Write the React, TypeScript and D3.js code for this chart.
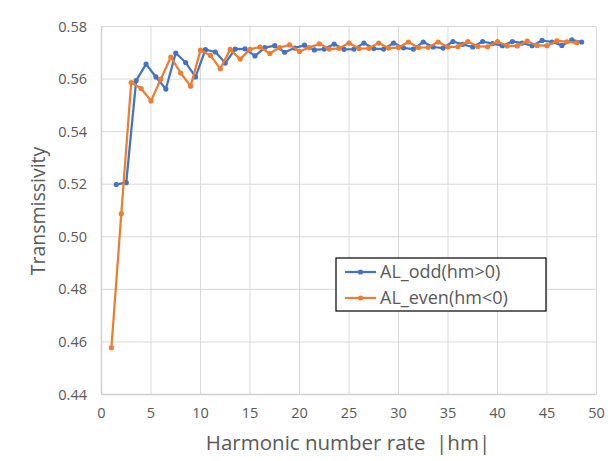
import React from "react";
import * as d3 from "d3";

// harmonic number rate |hm| for each series
const oddX = [
  1.5, 2.5, 3.5, 4.5, 5.5, 6.5, 7.5, 8.5, 9.5, 10.5, 11.5, 12.5, 13.5, 14.5, 15.5, 16.5,
  17.5, 18.5, 19.5, 20.5, 21.5, 22.5, 23.5, 24.5, 25.5, 26.5, 27.5, 28.5, 29.5, 30.5, 31.5, 32.5,
  33.5, 34.5, 35.5, 36.5, 37.5, 38.5, 39.5, 40.5, 41.5, 42.5, 43.5, 44.5, 45.5, 46.5, 47.5, 48.5,
];
const oddT = [
  0.5199, 0.5206, 0.5594, 0.5657, 0.5608, 0.5562, 0.5699, 0.5663, 0.5608, 0.5712, 0.5703, 0.5661,
  0.5714, 0.5715, 0.5688, 0.572, 0.5727, 0.5702, 0.5718, 0.5729, 0.5711, 0.5714, 0.5733, 0.5713,
  0.5714, 0.5737, 0.5716, 0.5714, 0.5737, 0.5719, 0.5714, 0.5741, 0.5722, 0.5718, 0.5743, 0.5732,
  0.5722, 0.5743, 0.5735, 0.5727, 0.5743, 0.5737, 0.5727, 0.5747, 0.5741, 0.5728, 0.5749, 0.5741,
];
const evenX = [
  1, 2, 3, 4, 5, 6, 7, 8, 9, 10, 11, 12, 13, 14, 15, 16, 17, 18, 19, 20, 21, 22, 23, 24,
  25, 26, 27, 28, 29, 30, 31, 32, 33, 34, 35, 36, 37, 38, 39, 40, 41, 42, 43, 44, 45, 46, 47, 48,
];
const evenT = [
  0.4578, 0.5088, 0.5587, 0.5564, 0.5517, 0.56, 0.5684, 0.5623, 0.5573, 0.571, 0.569, 0.5639,
  0.5713, 0.5676, 0.5713, 0.5722, 0.5697, 0.572, 0.573, 0.5705, 0.572, 0.5734, 0.5714, 0.5717,
  0.5737, 0.5716, 0.5717, 0.5737, 0.5718, 0.572, 0.5741, 0.572, 0.5721, 0.5741, 0.5722, 0.5723,
  0.5743, 0.5724, 0.5723, 0.5743, 0.5726, 0.5726, 0.5744, 0.5728, 0.5727, 0.5745, 0.5742, 0.5738,
];

const xTicks = [0, 5, 10, 15, 20, 25, 30, 35, 40, 45, 50];
const yTicks = [0.44, 0.46, 0.48, 0.5, 0.52, 0.54, 0.56, 0.58];

const seriesNames = ["AL_odd(hm>0)", "AL_even(hm<0)"];
const colors = ["#4472C4", "#ED7D31"];

const W = 616;
const H = 461;
const font = "'Open Sans', sans-serif";
const textColor = "#595959";

export default function App() {
  const x = d3.scaleLinear().domain([0, 50]).range([101.5, 596.5]);
  const y = d3.scaleLinear().domain([0.44, 0.58]).range([394.5, 26.5]);

  const line = d3
    .line<[number, number]>()
    .x((d) => x(d[0]))
    .y((d) => y(d[1]));

  const series = [
    d3.zip(oddX, oddT) as [number, number][],
    d3.zip(evenX, evenT) as [number, number][],
  ];

  const legX = 336;
  const legY = 258;

  return (
    <svg
      width={W}
      height={H}
      style={{ position: "absolute", left: 0, top: 0, background: "#fff" }}
      fontFamily={font}
    >
      <rect width={W} height={H} fill="#fff" />

      {/* grid */}
      {xTicks.map((t) => (
        <line key={"gx" + t} x1={x(t)} x2={x(t)} y1={y(0.58)} y2={y(0.44)} stroke="#d9d9d9" strokeWidth={1} />
      ))}
      {yTicks.map((t) => (
        <line key={"gy" + t} x1={x(0)} x2={x(50)} y1={y(t)} y2={y(t)} stroke="#d9d9d9" strokeWidth={1} />
      ))}
      {/* axes */}
      <line x1={x(0)} x2={x(0)} y1={y(0.58)} y2={y(0.44)} stroke="#d0d0d0" strokeWidth={1.5} />
      <line x1={x(0)} x2={x(50)} y1={y(0.44)} y2={y(0.44)} stroke="#d0d0d0" strokeWidth={1.5} />

      {/* tick labels */}
      {yTicks.map((t) => (
        <text key={"ty" + t} x={87} y={y(t)} dy="0.35em" textAnchor="end" fontSize={14.5} fill={textColor}>
          {t.toFixed(2)}
        </text>
      ))}
      {xTicks.map((t) => (
        <text key={"tx" + t} x={x(t)} y={413} dy="0.35em" textAnchor="middle" fontSize={14.5} fill={textColor}>
          {t}
        </text>
      ))}

      {/* axis titles */}
      <text x={348} y={450} textAnchor="middle" fontSize={20.5} fill={textColor} style={{ whiteSpace: "pre" }}>
        {"Harmonic number rate  |hm|"}
      </text>
      <text
        transform={`translate(38,211) rotate(-90)`}
        textAnchor="middle"
        dy="0.35em"
        fontSize={19.5}
        fill={textColor}
      >
        Transmissivity
      </text>

      {/* series */}
      {series.map((s, i) => (
        <g key={"s" + i}>
          <path d={line(s) ?? ""} fill="none" stroke={colors[i]} strokeWidth={2.25} strokeLinejoin="round" />
          {s.map((d, j) => (
            <circle key={j} cx={x(d[0])} cy={y(d[1])} r={2.6} fill={colors[i]} />
          ))}
        </g>
      ))}

      {/* legend */}
      <rect x={legX} y={legY} width={210} height={53} fill="#fff" stroke="#000" strokeWidth={1.2} />
      {seriesNames.map((n, i) => (
        <g key={"l" + i} transform={`translate(${legX}, ${legY + 14 + i * 26})`}>
          <line x1={9} x2={40} y1={0} y2={0} stroke={colors[i]} strokeWidth={2.25} />
          <circle cx={24.5} cy={0} r={2.6} fill={colors[i]} />
          <text x={44} y={0} dy="0.35em" fontSize={18} fill={textColor}>
            {n}
          </text>
        </g>
      ))}
    </svg>
  );
}
